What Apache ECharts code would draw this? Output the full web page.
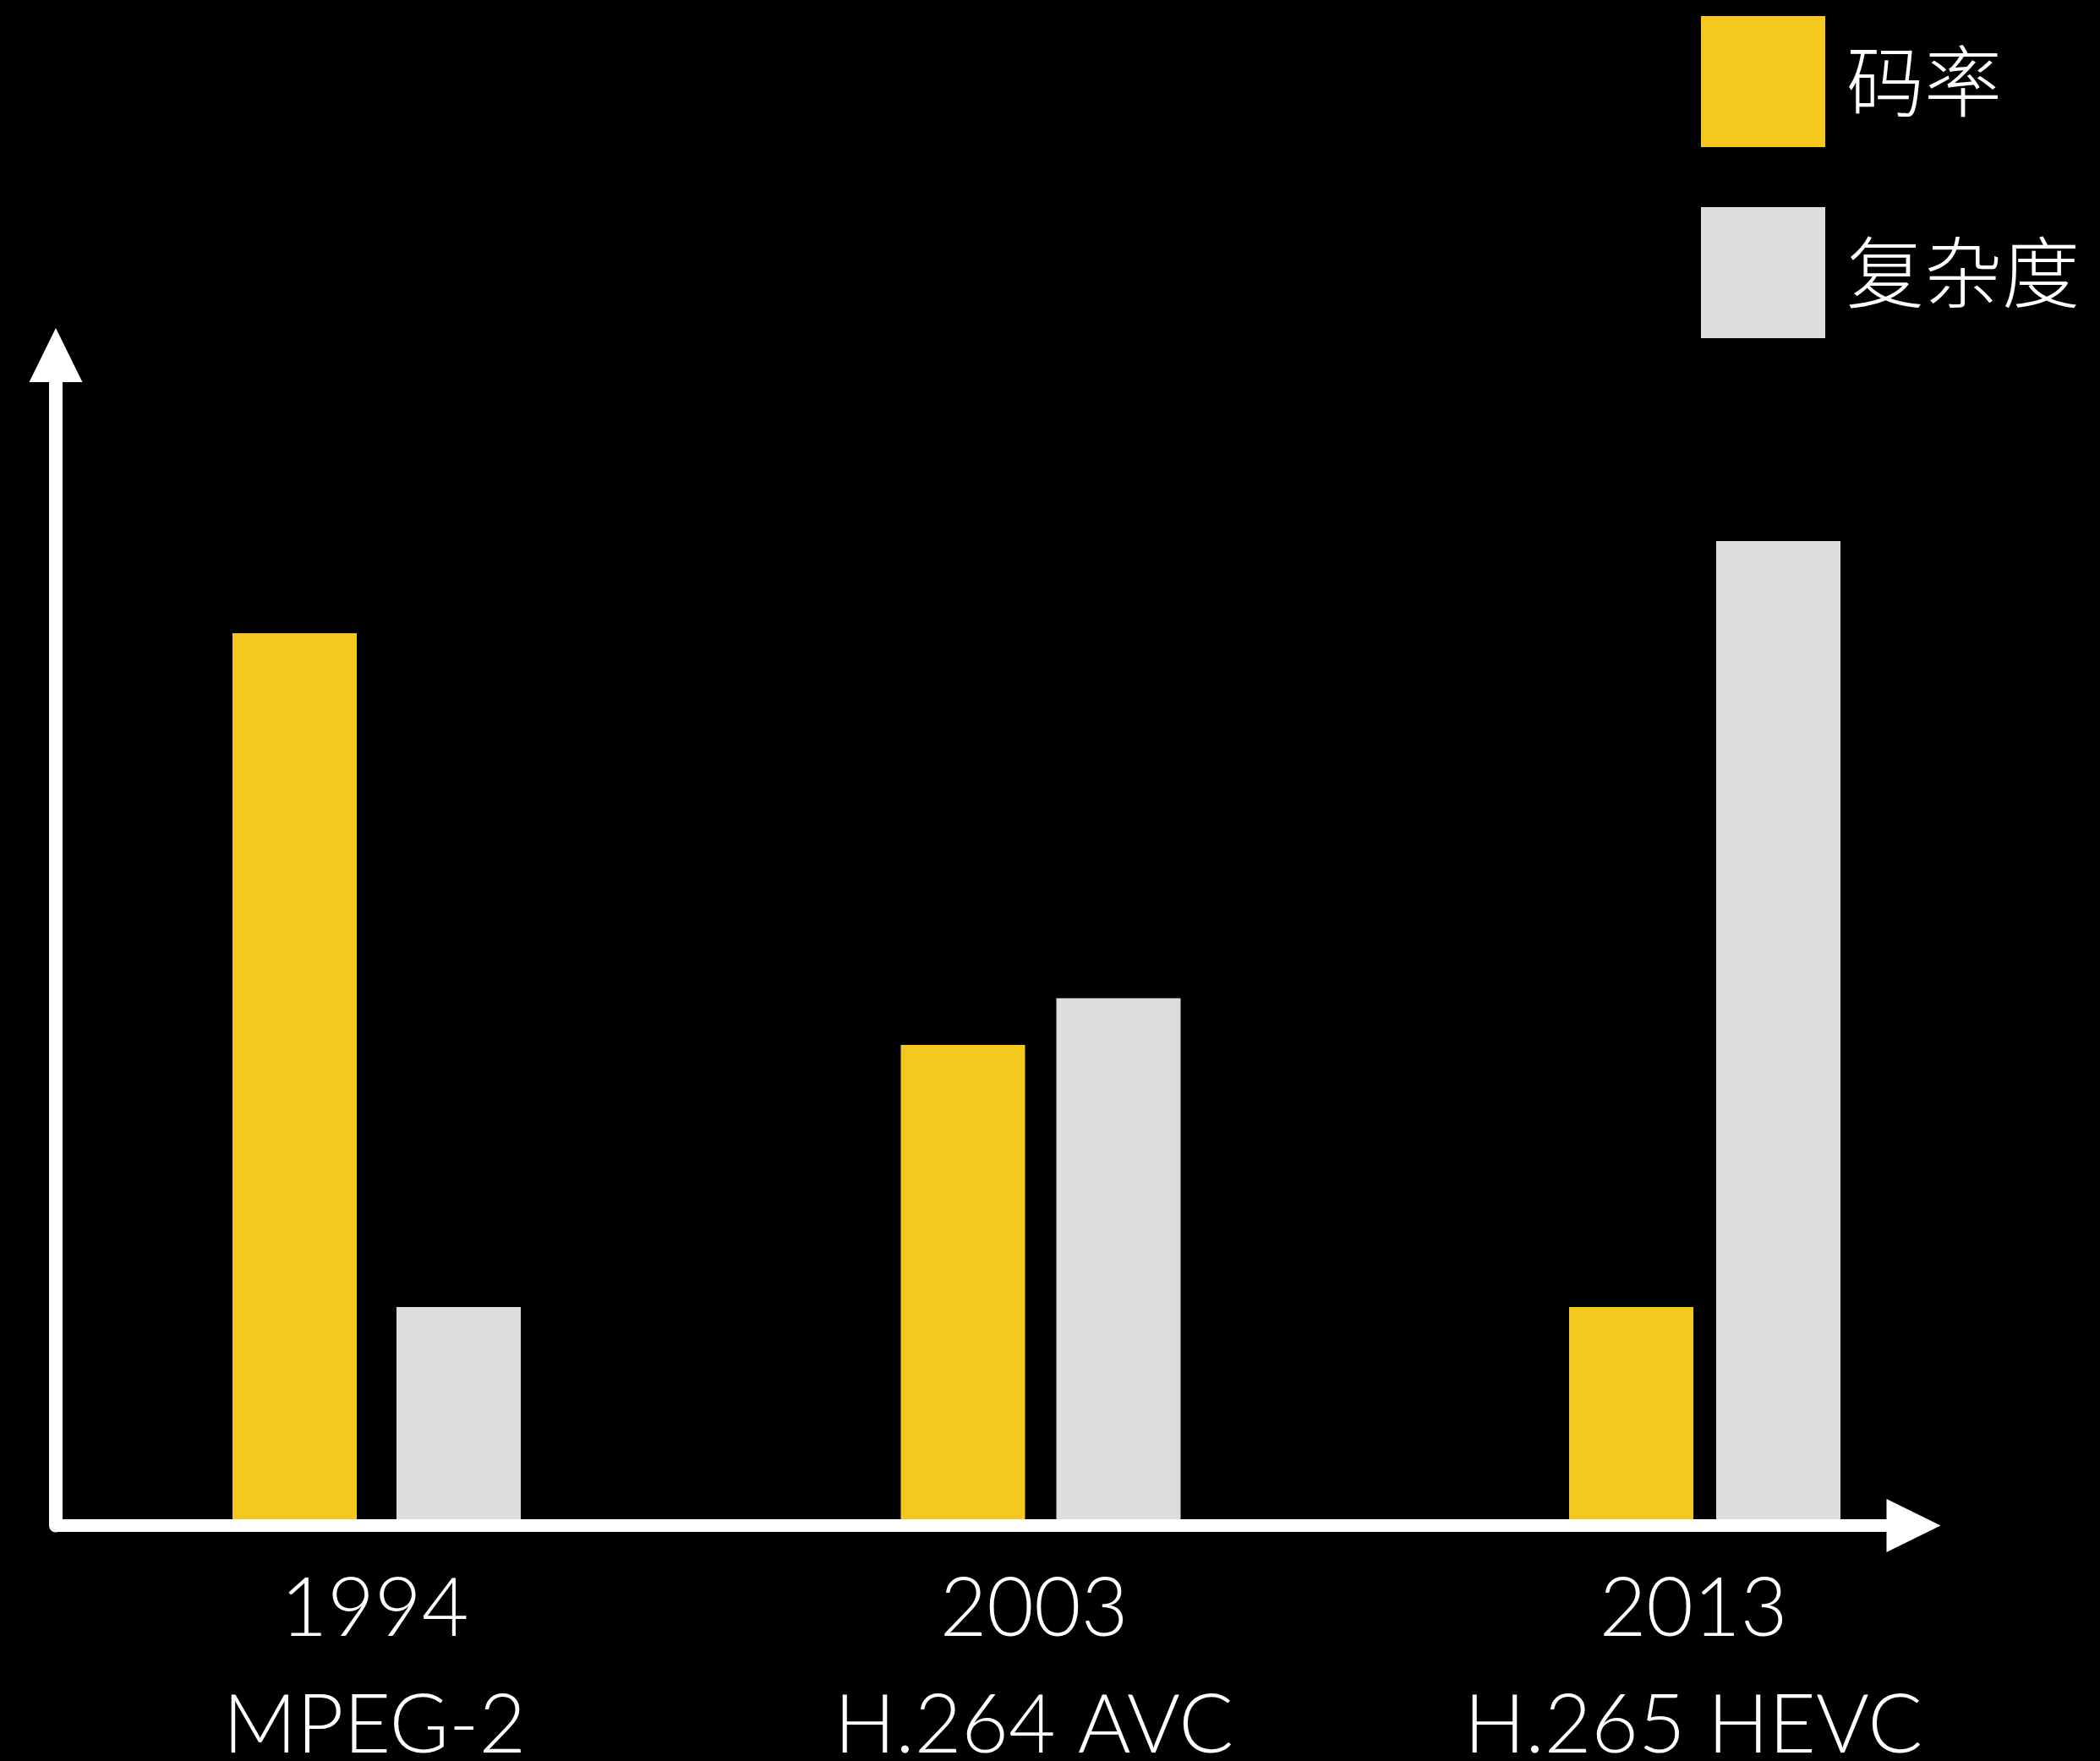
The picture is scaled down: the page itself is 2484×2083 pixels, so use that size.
<!DOCTYPE html>
<html>
<head>
<meta charset="utf-8">
<script src="https://cdn.jsdelivr.net/npm/echarts@6/dist/echarts.min.js"></script>
<style>
  html, body { margin: 0; padding: 0; background: #000; }
  #chart { width: 2484px; height: 2083px; }
</style>
</head>
<body>
<div id="chart"></div>
<script>
  // 数据
  var years = ['1994', '2003', '2013'];
  var codecs = ['MPEG-2', 'H.264 AVC', 'H.265 HEVC'];
  var seriesNames = ['码率', '复杂度'];
  var bitrate = [8.35, 4.47, 2.0];
  var complexity = [2.0, 4.91, 9.22];

  var labels = years.map(function (y, i) { return y + '\n' + codecs[i]; });

  var YELLOW = '#F5C81E';
  var GRAY = '#DCDDDE';

  var chart = echarts.init(document.getElementById('chart'));

  // 共用：隐藏的轴
  function hiddenAxis(extra) {
    return Object.assign({
      axisLine: { show: false },
      axisTick: { show: false },
      axisLabel: { show: false },
      splitLine: { show: false }
    }, extra);
  }

  var arrowLine = function (w) {
    return {
      show: true,
      onZero: false,
      symbol: ['none', 'triangle'],
      symbolSize: [63, 64],
      lineStyle: { color: '#fff', width: w }
    };
  };

  chart.setOption({
    backgroundColor: '#000',
    animation: false,
    legend: {
      orient: 'vertical',
      left: 2012,
      top: 19,
      padding: 0,
      itemWidth: 147,
      itemHeight: 155,
      itemGap: 71,
      icon: 'rect',
      data: seriesNames,
      textStyle: {
        color: '#fff',
        fontSize: 92,
        fontWeight: 300,
        fontFamily: 'Noto Sans CJK SC',
        padding: [0, 0, 0, 20]
      }
    },
    grid: [
      // 坐标箭头
      { left: 66, right: 220.5, top: 420, bottom: 278.5, outerBoundsMode: 'none' },
      // 码率柱
      { left: 348.5, right: 554.5, top: 542, bottom: 286, outerBoundsMode: 'none' },
      // 复杂度柱
      { left: 542.5, right: 380.5, top: 542, bottom: 286, outerBoundsMode: 'none' },
      // 分类标签
      { left: 443, right: 481, top: 542, bottom: 286, outerBoundsMode: 'none' }
    ],
    xAxis: [
      hiddenAxis({ type: 'value', gridIndex: 0, min: 0, max: 1, axisLine: arrowLine(15) }),
      hiddenAxis({ type: 'category', gridIndex: 1, boundaryGap: false, data: years }),
      hiddenAxis({ type: 'category', gridIndex: 2, boundaryGap: false, data: years }),
      hiddenAxis({
        type: 'category', gridIndex: 3, boundaryGap: false, data: labels,
        axisLabel: {
          show: true,
          color: '#fff',
          fontSize: 96,
          fontWeight: 300,
          fontFamily: 'Lato, "Open Sans", sans-serif',
          lineHeight: 138,
          margin: 38,
          interval: 0
        }
      })
    ],
    yAxis: [
      hiddenAxis({ type: 'value', gridIndex: 0, min: 0, max: 1, axisLine: arrowLine(16) }),
      hiddenAxis({ type: 'value', gridIndex: 1, min: 0, max: 10 }),
      hiddenAxis({ type: 'value', gridIndex: 2, min: 0, max: 10 }),
      hiddenAxis({ type: 'value', gridIndex: 3, min: 0, max: 10 })
    ],
    series: [
      {
        name: seriesNames[0],
        type: 'bar',
        xAxisIndex: 1,
        yAxisIndex: 1,
        barWidth: 147,
        itemStyle: { color: YELLOW },
        data: bitrate
      },
      {
        name: seriesNames[1],
        type: 'bar',
        xAxisIndex: 2,
        yAxisIndex: 2,
        barWidth: 147,
        itemStyle: { color: GRAY },
        data: complexity
      }
    ]
  });

  window.addEventListener('resize', function () { chart.resize(); });
</script>
</body>
</html>
